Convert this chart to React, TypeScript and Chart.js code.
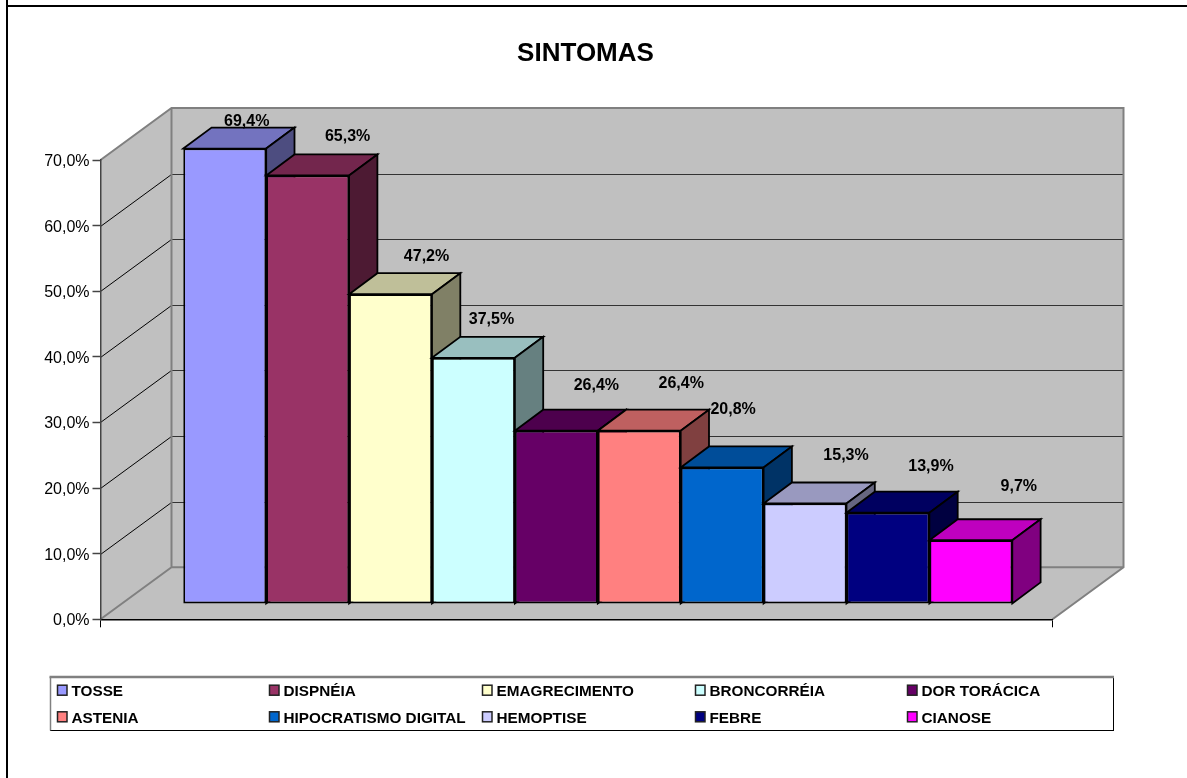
import React, { useEffect, useRef } from "react";
import { Chart, registerables } from "chart.js";

Chart.register(...registerables);

const categories = ["SINTOMAS"];
const seriesNames = [
  "TOSSE", "DISPNÉIA", "EMAGRECIMENTO", "BRONCORRÉIA", "DOR TORÁCICA",
  "ASTENIA", "HIPOCRATISMO DIGITAL", "HEMOPTISE", "FEBRE", "CIANOSE",
];
const seriesValues = [69.4, 65.3, 47.2, 37.5, 26.4, 26.4, 20.8, 15.3, 13.9, 9.7];
const seriesColors = [
  "#9999FF", "#993366", "#FFFFCC", "#CCFFFF", "#660066",
  "#FF8080", "#0066CC", "#CCCCFF", "#000080", "#FF00FF",
];
const yTicks = [0, 10, 20, 30, 40, 50, 60, 70];

const FONT = '"Liberation Sans", Arial, sans-serif';
const WALL = "#C0C0C0";
const WALL_EDGE = "#808080";
const DEPTH = { x: 71, y: 52 };
const BAR_SHIFT = { x: 21.3, y: 15.4 };
const BAR_DEPTH = { x: 28.3, y: 21 };
// Hand-placed label offsets (relative to bar centre / bar top), as in the source
const LABEL_OFFSET = [
  [22, -27], [40, -39], [36, -38], [18, -38], [40, -45],
  [42, -47], [11, -58], [41, -48], [43, -46], [48, -54],
];
const LEGEND_BOX = { l: 50.5, t: 677, r: 1113.5, b: 730.5 };
const LEGEND_COLS = [57.5, 269.5, 482.5, 695.5, 907.5];
const LEGEND_ROWS = [690.2, 716.8];

function shade(hex: string, f: number) {
  const n = parseInt(hex.slice(1), 16);
  const c = [(n >> 16) & 255, (n >> 8) & 255, n & 255].map((v) => Math.round(v * f));
  return `rgb(${c[0]},${c[1]},${c[2]})`;
}

function poly(ctx: CanvasRenderingContext2D, pts: number[][], fill: string | null, stroke: string | null, lw = 1) {
  ctx.beginPath();
  pts.forEach((p, i) => (i ? ctx.lineTo(p[0], p[1]) : ctx.moveTo(p[0], p[1])));
  ctx.closePath();
  if (fill) { ctx.fillStyle = fill; ctx.fill(); }
  if (stroke) { ctx.strokeStyle = stroke; ctx.lineWidth = lw; ctx.lineJoin = "miter"; ctx.stroke(); }
}

const plugin3d = {
  id: "plugin3d",
  afterLayout(chart: any) {
    const t = chart.titleBlock;
    t.left = 0;
    t.right = 1171;
  },
  beforeDraw(chart: any) {
    const { ctx, chartArea: a, scales } = chart;
    const y = scales.y;
    const top = y.getPixelForValue(70);
    const bot = y.getPixelForValue(0);
    ctx.save();
    // outer frame
    ctx.fillStyle = "#000";
    ctx.fillRect(6, 0, 2, 778);
    ctx.fillRect(6, 5, 1181, 2);
    const bl = a.left + DEPTH.x, br = a.right + DEPTH.x;
    // side wall, back wall, floor
    poly(ctx, [[a.left, bot], [a.left, top], [bl, top - DEPTH.y], [bl, bot - DEPTH.y]], WALL, null);
    poly(ctx, [[bl, top - DEPTH.y], [br, top - DEPTH.y], [br, bot - DEPTH.y], [bl, bot - DEPTH.y]], WALL, null);
    poly(ctx, [[a.left, bot], [a.right, bot], [br, bot - DEPTH.y], [bl, bot - DEPTH.y]], WALL, null);
    // grid lines
    yTicks.slice(1, -1).forEach((v) => {
      const p = Math.round(y.getPixelForValue(v)) + 0.5;
      ctx.strokeStyle = "#000";
      ctx.lineWidth = 1;
      ctx.beginPath();
      ctx.moveTo(a.left, p);
      ctx.lineTo(bl, p - DEPTH.y);
      ctx.stroke();
      ctx.strokeStyle = "#333";
      ctx.lineWidth = 1.2;
      ctx.beginPath();
      ctx.moveTo(bl, p - DEPTH.y);
      ctx.lineTo(br, p - DEPTH.y);
      ctx.stroke();
    });
    // wall edges
    ctx.strokeStyle = WALL_EDGE;
    ctx.lineWidth = 2;
    ctx.beginPath();
    ctx.moveTo(a.left, top);
    ctx.lineTo(bl, top - DEPTH.y);
    ctx.lineTo(br, top - DEPTH.y);
    ctx.lineTo(br, bot - DEPTH.y);
    ctx.lineTo(a.right, bot);
    ctx.moveTo(br, bot - DEPTH.y);
    ctx.lineTo(bl, bot - DEPTH.y);
    ctx.lineTo(bl, top - DEPTH.y);
    ctx.moveTo(bl, bot - DEPTH.y);
    ctx.lineTo(a.left, bot);
    ctx.stroke();
    ctx.restore();
  },
  beforeDatasetsDraw(chart: any) {
    const { ctx } = chart;
    ctx.save();
    ctx.translate(BAR_SHIFT.x, -BAR_SHIFT.y);
    chart.data.datasets.forEach((ds: any, i: number) => {
      const meta = chart.getDatasetMeta(i);
      const el = meta.data[0];
      const { x, y, width, base } = el.getProps(["x", "y", "width", "base"], true);
      const l = x - width / 2, r = x + width / 2;
      const c = ds.backgroundColor as string;
      poly(ctx, [[l, y], [l + BAR_DEPTH.x, y - BAR_DEPTH.y], [r + BAR_DEPTH.x, y - BAR_DEPTH.y], [r, y]], shade(c, 0.75), "#000", 1.8);
      poly(ctx, [[r, y], [r + BAR_DEPTH.x, y - BAR_DEPTH.y], [r + BAR_DEPTH.x, base - BAR_DEPTH.y], [r, base]], shade(c, 0.5), "#000", 1.8);
      meta.controller.draw();
    });
    ctx.restore();
    return false;
  },
  afterDraw(chart: any) {
    const { ctx } = chart;
    ctx.save();
    // value labels
    ctx.font = `bold 16px ${FONT}`;
    ctx.fillStyle = "#000";
    ctx.textAlign = "center";
    ctx.textBaseline = "middle";
    chart.data.datasets.forEach((ds: any, i: number) => {
      const el = chart.getDatasetMeta(i).data[0];
      const { x, y } = el.getProps(["x", "y"], true);
      const text = ds.data[0].toFixed(1).replace(".", ",") + "%";
      ctx.fillText(text, x + BAR_SHIFT.x + LABEL_OFFSET[i][0], y - BAR_SHIFT.y + LABEL_OFFSET[i][1]);
    });
    // legend
    const b = LEGEND_BOX;
    ctx.fillStyle = "#fff";
    ctx.fillRect(b.l, b.t, b.r - b.l, b.b - b.t);
    ctx.lineWidth = 1;
    ctx.strokeStyle = "#000";
    ctx.strokeRect(b.l, b.t, b.r - b.l, b.b - b.t);
    ctx.strokeStyle = WALL_EDGE;
    ctx.lineWidth = 1.5;
    ctx.beginPath();
    ctx.moveTo(b.l, b.b);
    ctx.lineTo(b.l, b.t);
    ctx.stroke();
    ctx.lineWidth = 2.5;
    ctx.beginPath();
    ctx.moveTo(b.l - 1, b.t);
    ctx.lineTo(b.r + 0.5, b.t);
    ctx.stroke();
    ctx.font = `bold 15.3px ${FONT}`;
    ctx.textAlign = "left";
    chart.data.datasets.forEach((ds: any, i: number) => {
      const cx = LEGEND_COLS[i % 5];
      const cy = LEGEND_ROWS[Math.floor(i / 5)];
      ctx.fillStyle = ds.backgroundColor;
      ctx.fillRect(cx, cy - 5, 9.5, 10);
      ctx.strokeStyle = "#222";
      ctx.lineWidth = 1.5;
      ctx.strokeRect(cx, cy - 5, 9.5, 10);
      ctx.fillStyle = "#000";
      ctx.fillText(ds.label, cx + 14, cy + 1.8);
    });
    ctx.restore();
  },
};

export default function App() {
  const ref = useRef<HTMLCanvasElement>(null);
  useEffect(() => {
    const chart = new Chart(ref.current as HTMLCanvasElement, {
      type: "bar",
      data: {
        labels: categories,
        datasets: seriesNames.map((name, i) => ({
          label: name,
          data: [seriesValues[i]],
          backgroundColor: seriesColors[i],
          borderColor: "#000",
          borderWidth: 1.8,
          borderSkipped: false,
          categoryPercentage: 829 / 952,
          barPercentage: 1,
        })),
      },
      options: {
        animation: false,
        responsive: false,
        layout: { padding: { left: 0, right: 134.5, top: 0, bottom: 150.7 } },
        plugins: {
          legend: { display: false },
          tooltip: { enabled: false },
          title: {
            display: true,
            text: "SINTOMAS",
            color: "#000",
            font: { family: FONT, size: 26, weight: "bold", lineHeight: 1.2 },
            padding: { top: 38, bottom: 90.8 },
          },
        },
        scales: {
          x: {
            offset: true,
            afterFit: (s: any) => { s.height = 8; },
            ticks: { display: false },
            grid: { drawOnChartArea: false, drawTicks: true, tickLength: 8, tickColor: "#000", tickWidth: 1 },
            border: { color: "#000", width: 1.5 },
          },
          y: {
            min: 0,
            max: 70,
            afterFit: (s: any) => { s.width = 100.5; },
            afterBuildTicks: (s: any) => { s.ticks = yTicks.map((v) => ({ value: v })); },
            ticks: {
              color: "#000",
              padding: 3,
              labelOffset: 1.5,
              font: { family: FONT, size: 16 },
              callback: (v: any) => Number(v).toFixed(1).replace(".", ",") + "%",
            },
            grid: { drawOnChartArea: false, drawTicks: true, tickLength: 8, tickColor: "#444", tickWidth: 1.5 },
            border: { color: "#444", width: 1.5 },
          },
        },
      } as any,
      plugins: [plugin3d as any],
    });
    return () => chart.destroy();
  }, []);
  return (
    <div style={{ position: "absolute", left: 0, top: 0 }}>
      <canvas ref={ref} width={1187} height={778} style={{ display: "block" }} />
    </div>
  );
}
